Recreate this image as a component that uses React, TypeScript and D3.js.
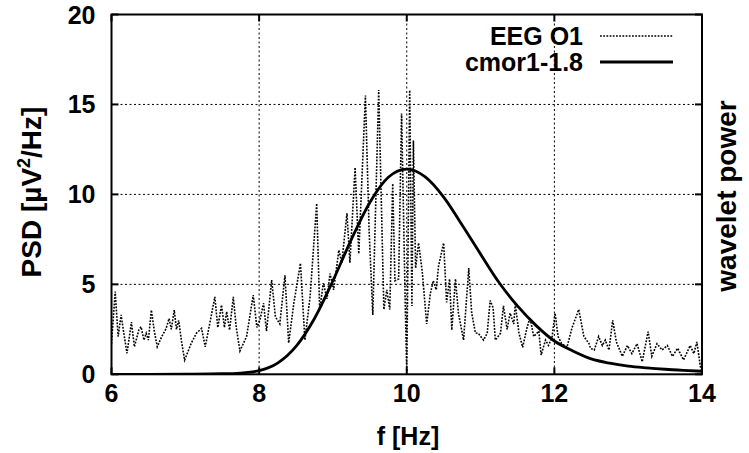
import React from "react";
import * as d3 from "d3";

const xTicks = [6, 8, 10, 12, 14];
const yTicks = [0, 5, 10, 15, 20];

const eegFreq = [
  6.0, 6.05, 6.09, 6.13, 6.17, 6.21, 6.27, 6.31, 6.37, 6.4, 6.44, 6.47, 6.5, 6.54, 6.58, 6.62, 6.68, 6.74, 6.78, 6.81,
  6.85, 6.88, 6.91, 6.95, 6.99, 7.04, 7.08, 7.15, 7.22, 7.27, 7.33, 7.4, 7.44, 7.49, 7.53, 7.56, 7.6, 7.65, 7.69, 7.74,
  7.83, 7.92, 7.97, 8.01, 8.06, 8.1, 8.14, 8.17, 8.22, 8.28, 8.35, 8.4, 8.47, 8.56, 8.62, 8.69, 8.78, 8.82, 8.87, 8.92,
  8.96, 9.01, 9.08, 9.12, 9.19, 9.23, 9.3, 9.35, 9.44, 9.49, 9.54, 9.62, 9.69, 9.73, 9.77, 9.81, 9.84, 9.89, 9.93, 9.98,
  10.0, 10.04, 10.07, 10.09, 10.12, 10.16, 10.21, 10.27, 10.32, 10.36, 10.4, 10.43, 10.5, 10.54, 10.58, 10.61, 10.66, 10.7, 10.77, 10.84,
  10.88, 10.93, 10.97, 11.04, 11.09, 11.13, 11.17, 11.2, 11.27, 11.31, 11.36, 11.4, 11.45, 11.47, 11.52, 11.57, 11.63, 11.67, 11.72, 11.79,
  11.82, 11.88, 11.92, 11.97, 12.01, 12.05, 12.1, 12.17, 12.24, 12.33, 12.4, 12.47, 12.49, 12.54, 12.6, 12.65, 12.69, 12.74, 12.79, 12.84,
  12.92, 12.99, 13.05, 13.12, 13.19, 13.27, 13.32, 13.39, 13.46, 13.53, 13.6, 13.67, 13.75, 13.84, 13.89, 13.93, 13.98, 14.0,
];
const eegPsd = [
  1.7, 4.6, 2.1, 3.3, 2.2, 1.17, 2.9, 1.53, 2.46, 2.64, 1.9, 2.28, 1.9, 3.57, 2.4, 1.53, 2.09, 2.55, 3.1, 2.5,
  3.57, 2.5, 3.0, 1.8, 0.79, 1.3, 1.72, 2.28, 2.55, 1.53, 2.8, 4.3, 2.6, 3.85, 2.6, 3.48, 2.46, 4.3, 2.6, 1.3,
  2.1, 4.4, 2.6, 3.0, 3.95, 2.4, 4.0, 5.24, 3.2, 2.8, 5.5, 1.74, 3.95, 6.17, 1.9, 4.3, 9.5, 3.6, 5.07, 4.2,
  5.6, 4.7, 6.9, 6.2, 8.95, 6.2, 11.5, 6.7, 15.5, 8.0, 3.3, 15.8, 3.6, 4.7, 3.6, 10.6, 5.2, 5.3, 14.5, 3.8,
  0.15, 15.8, 3.8, 13.0, 5.9, 7.3, 5.7, 2.8, 4.5, 5.2, 4.7, 6.0, 7.3, 4.0, 5.3, 2.46, 5.3, 3.4, 1.9, 5.9,
  3.4, 2.3, 2.28, 1.9, 2.28, 4.1, 3.7, 1.9, 2.28, 3.8, 2.5, 3.4, 2.8, 3.9, 2.3, 1.5, 2.6, 3.15, 2.1, 2.4,
  1.07, 1.9, 1.6, 2.1, 3.4, 2.1, 1.7, 1.5, 2.6, 3.6, 2.1, 1.7, 1.44, 1.35, 2.1, 1.6, 1.9, 1.35, 3.0, 1.8,
  1.0, 1.6, 1.15, 1.7, 0.7, 2.37, 1.0, 1.7, 1.35, 1.6, 1.0, 1.45, 0.8, 1.6, 1.15, 1.8, 0.4, 0.2,
];

const cmorFreq = [6.0, 6.5, 7.0, 7.5, 7.75, 8.0, 8.25, 8.5, 8.75, 9.0, 9.25, 9.5, 9.75, 10.0, 10.25, 10.5, 10.75, 11.0, 11.25, 11.5, 11.75, 12.0, 12.25, 12.5, 12.75, 13.0, 13.25, 13.5, 13.75, 14.0];
const cmorPower = [0.0, 0.0, 0.01, 0.03, 0.07, 0.2, 0.62, 1.55, 3.1, 5.2, 7.5, 9.55, 10.95, 11.4, 10.97, 9.85, 8.3, 6.68, 5.1, 3.8, 2.72, 1.85, 1.3, 0.86, 0.62, 0.46, 0.36, 0.28, 0.22, 0.17];

const legendLabels = ["EEG O1", "cmor1-1.8"];

const W = 749;
const H = 453;
const M = { left: 111.5, right: 702, top: 14.5, bottom: 374.3 };
const FONT = "'Liberation Sans', Arial, sans-serif";
const FS = 25;
const FS_ROT = 28;

export default function App() {
  const x = d3.scaleLinear().domain([6, 14]).range([M.left, M.right]);
  const y = d3.scaleLinear().domain([0, 20]).range([M.bottom, M.top]);

  const eegLine = d3
    .line<number>()
    .x((_, i) => x(eegFreq[i]))
    .y((d) => y(d))(eegPsd);
  const cmorLine = d3
    .line<number>()
    .x((_, i) => x(cmorFreq[i]))
    .y((d) => y(d))
    .curve(d3.curveMonotoneX)(cmorPower);

  const tickLen = 7;

  return (
    <svg width={W} height={H} style={{ position: "absolute", left: 0, top: 0, background: "#fff" }}>
      <defs>
        <clipPath id="plotclip">
          <rect x={M.left} y={M.top} width={M.right - M.left} height={M.bottom - M.top} />
        </clipPath>
      </defs>
      <rect x={0} y={0} width={W} height={H} fill="#fff" />
      {xTicks.slice(1, -1).map((t) => (
        <line key={"gx" + t} x1={x(t)} x2={x(t)} y1={M.top} y2={M.bottom} stroke="#000" strokeWidth={1} strokeDasharray="2,2.5" />
      ))}
      {yTicks.slice(1, -1).map((t) => (
        <line key={"gy" + t} x1={M.left} x2={M.right} y1={y(t)} y2={y(t)} stroke="#000" strokeWidth={1} strokeDasharray="2,2.5" />
      ))}
      <g clipPath="url(#plotclip)">
        <path d={eegLine || ""} fill="none" stroke="#000" strokeWidth={1.6} strokeDasharray="1.8,1.4" />
        <path d={cmorLine || ""} fill="none" stroke="#000" strokeWidth={2.8} />
      </g>
      <rect x={M.left} y={M.top} width={M.right - M.left} height={M.bottom - M.top} fill="none" stroke="#000" strokeWidth={2} />
      {xTicks.map((t) => (
        <g key={"tx" + t}>
          <line x1={x(t)} x2={x(t)} y1={M.bottom} y2={M.bottom - tickLen} stroke="#000" strokeWidth={2} />
          <line x1={x(t)} x2={x(t)} y1={M.top} y2={M.top + tickLen} stroke="#000" strokeWidth={2} />
          <text x={x(t)} y={M.bottom + 28} textAnchor="middle" fontFamily={FONT} fontWeight="bold" fontSize={FS}>
            {t}
          </text>
        </g>
      ))}
      {yTicks.map((t) => (
        <g key={"ty" + t}>
          <line x1={M.left} x2={M.left + tickLen} y1={y(t)} y2={y(t)} stroke="#000" strokeWidth={2} />
          <line x1={M.right} x2={M.right - tickLen} y1={y(t)} y2={y(t)} stroke="#000" strokeWidth={2} />
          <text x={M.left - 16} y={y(t) + 9} textAnchor="end" fontFamily={FONT} fontWeight="bold" fontSize={FS}>
            {t}
          </text>
        </g>
      ))}
      <text x={408} y={445} textAnchor="middle" fontFamily={FONT} fontWeight="bold" fontSize={FS}>
        f [Hz]
      </text>
      <text transform={`translate(41,192) rotate(-90)`} textAnchor="middle" fontFamily={FONT} fontWeight="bold" fontSize={FS_ROT}>
        PSD [µV
        <tspan fontSize={18} dy={-11}>2</tspan>
        <tspan dy={11}>/Hz]</tspan>
      </text>
      <text transform={`translate(736,196) rotate(-90)`} textAnchor="middle" fontFamily={FONT} fontWeight="bold" fontSize={FS_ROT}>
        wavelet power
      </text>
      {legendLabels.map((lab, i) => (
        <g key={lab}>
          <text x={583} y={45 + i * 26} textAnchor="end" fontFamily={FONT} fontWeight="bold" fontSize={FS}>
            {lab}
          </text>
          <line
            x1={600}
            x2={673}
            y1={36 + i * 26}
            y2={36 + i * 26}
            stroke="#000"
            strokeWidth={i === 0 ? 1.6 : 2.8}
            strokeDasharray={i === 0 ? "1.8,1.4" : undefined}
          />
        </g>
      ))}
    </svg>
  );
}
